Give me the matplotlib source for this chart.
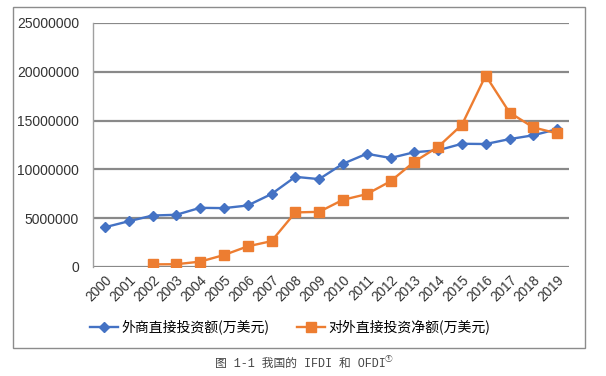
import matplotlib
matplotlib.use("Agg")
import matplotlib.pyplot as plt
from matplotlib.patches import Rectangle

years = [str(y) for y in range(2000, 2020)]
ifdi = [4071481, 4687759, 5274286, 5350467, 6062998, 6032459, 6302053, 7476789,
        9239544, 9003266, 10573235, 11601104, 11171614, 11758620, 11956156,
        12626660, 12600084, 13103513, 13496600, 14122500]
ofdi_years = [str(y) for y in range(2002, 2020)]
ofdi = [270000, 285465, 549799, 1226117, 2116396, 2650609, 5590717, 5652899,
        6881131, 7465404, 8780353, 10784371, 12311986, 14566715, 19614943,
        15828830, 14303731, 13690756]
yticks = [0, 5000000, 10000000, 15000000, 20000000, 25000000]
label_ifdi = "外商直接投资额(万美元)"
label_ofdi = "对外直接投资净额(万美元)"
caption = "图 1-1 我国的 IFDI 和 OFDI"
footnote_mark = "①"

plt.rcParams['font.family'] = ['Liberation Sans', 'Noto Sans CJK SC', 'DejaVu Sans']

W, H = 606, 376
fig = plt.figure(figsize=(W / 100, H / 100), dpi=100)

# outer chart frame
fig.patches.append(Rectangle((13 / W, 1 - 348 / H), (585 - 13) / W, (348 - 7) / H,
                             transform=fig.transFigure, fill=False,
                             edgecolor='#8c8c8c', linewidth=1.0))

ax = fig.add_axes([93 / W, 1 - 267 / H, (569 - 93) / W, (267 - 23) / H])
xi = list(range(len(years)))
xo = [years.index(y) for y in ofdi_years]

ax.plot(xi, ifdi, color='#4472C4', linewidth=1.7, marker='D', markersize=5.5,
        label=label_ifdi, zorder=3)
ax.plot(xo, ofdi, color='#ED7D31', linewidth=1.7, marker='s', markersize=7.5,
        label=label_ofdi, zorder=4)

ax.set_xlim(-0.5, len(years) - 0.5)
ax.set_ylim(0, 25000000)
ax.set_yticks(yticks)
ax.set_yticklabels([str(v) for v in yticks])
ax.set_xticks(xi)
ax.set_xticklabels(years, rotation=45, ha='right', rotation_mode='anchor')
ax.grid(axis='y', color='#898989', linewidth=1.6)
ax.set_axisbelow(True)
for s in ['top', 'right', 'bottom']:
    ax.spines[s].set_visible(False)
ax.spines['left'].set_color('#a0a0a0')
ax.spines['left'].set_linewidth(1.0)
ax.tick_params(axis='y', length=0, labelsize=10, colors='#333333', pad=10)
ax.tick_params(axis='x', length=0, labelsize=9.8, colors='#333333', pad=4)

handles, labels = ax.get_legend_handles_labels()
fig.legend(handles, labels, loc='center', bbox_to_anchor=(290 / W, 1 - 327 / H),
           ncol=2, frameon=False, handlelength=2.0,
           columnspacing=2.0, handletextpad=0.25,
           prop={'family': ['Noto Sans CJK SC', 'DejaVu Sans'], 'size': 10})

cap = fig.text(300 / W, 1 - 364 / H, caption, ha='center', va='center',
               fontsize=8.5, color='#444444',
               family=['Liberation Mono', 'Noto Sans CJK SC', 'DejaVu Sans'])
fig.canvas.draw()
bb = cap.get_window_extent()
fig.text((bb.x1 + 3) / W, 1 - 359 / H, footnote_mark, ha='center', va='center',
         fontsize=5.5, color='#444444', family=['Noto Sans CJK SC', 'DejaVu Sans'])

fig.savefig('out.png', dpi=100)
